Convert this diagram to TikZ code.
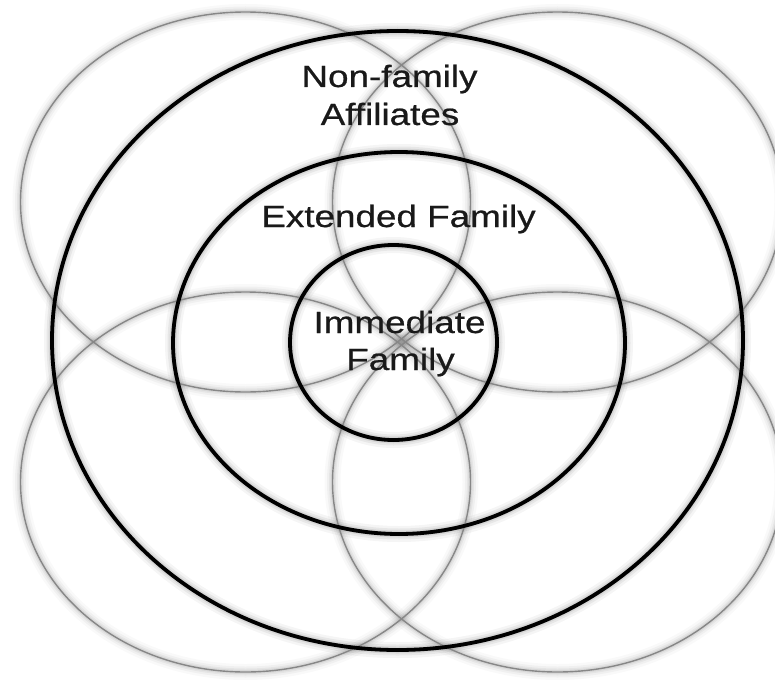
\documentclass[tikz,border=0pt]{standalone}
\usepackage{fontspec}
\newfontfamily\labelfont[FakeStretch=1.2,FakeBold=0.7]{Liberation Sans}
\newcommand\ringshadow[4]{%
  \foreach \w/\o in {16/0.025,11/0.035,7/0.045,4/0.055}{%
    \draw[draw=black, opacity=\o*#4, line width=\w pt, shift={(3,4)}] (#1) ellipse [x radius=#2pt, y radius=#3pt];
  }%
}
\begin{document}
\begin{tikzpicture}[x=1pt,y=-1pt,
  grayring/.style={draw=black!47, line width=1.4pt},
  blackring/.style={draw=black, line width=3.8pt},
  lbl/.style={font=\labelfont\fontsize{30.7}{38}\selectfont, text=black!90, inner sep=0pt, anchor=base}]
\useasboundingbox (0,0) rectangle (775,679);
\clip (0,0) rectangle (775,679);
\fill[white] (0,0) rectangle (775,679);
% centres
\coordinate (gtl) at (245.5,202);
\coordinate (gtr) at (557.5,202);
\coordinate (gbl) at (245.5,482);
\coordinate (gbr) at (557.5,482);
\coordinate (cout) at (397.5,340.5);
\coordinate (cmid) at (399,343);
\coordinate (cin) at (393.5,342.5);
% shadows
\foreach \c in {gtl,gtr,gbl,gbr}{\ringshadow{\c}{225}{190}{1}}
\ringshadow{cout}{345.5}{309.5}{1.6}
\ringshadow{cmid}{226}{191}{1.6}
\ringshadow{cin}{103.5}{97.5}{1.6}
% grey rings
\foreach \c in {gtl,gtr,gbl,gbr}{\draw[grayring] (\c) ellipse [x radius=225pt, y radius=190pt];}
% black rings
\draw[blackring] (cout) ellipse [x radius=345.5pt, y radius=309.5pt];
\draw[blackring] (cmid) ellipse [x radius=226pt, y radius=191pt];
\draw[blackring] (cin) ellipse [x radius=103.5pt, y radius=97.5pt];
% labels
\node[lbl] (nonfam) at (389.5,87) {Non-family};
\node[lbl] (affil) at (390,125) {Affiliates};
\node[lbl] (ext) at (398.5,227) {Extended Family};
\node[lbl] (imm) at (399.5,333) {Immediate};
\node[lbl] (fam) at (400.5,370) {Family};
\end{tikzpicture}
\end{document}
